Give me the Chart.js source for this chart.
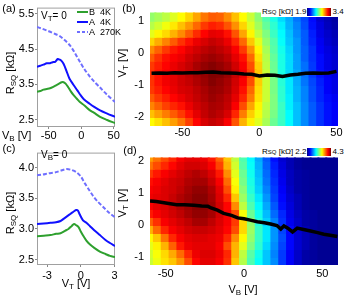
<!DOCTYPE html>
<html><head><meta charset="utf-8">
<script src="https://cdn.jsdelivr.net/npm/chart.js@4.4.1/dist/chart.umd.min.js"></script>
<style>
html,body{margin:0;padding:0;background:#fff}
body{position:relative;width:345px;height:300px;overflow:hidden;font-family:'Liberation Sans',Arial,sans-serif;color:#000}
canvas{position:absolute}
.t{position:absolute;white-space:nowrap;font-size:11px;line-height:12px}
.t sub,.lg sub,.cb sub{font-size:8px;line-height:0;vertical-align:-2px}
.cb sub{font-size:6px}
.c{transform:translate(-50%,-50%)}
.r{transform:translate(-50%,-50%) rotate(-90deg)}
.lg{position:absolute;font-size:9px;line-height:10px;white-space:nowrap}
.sw{position:absolute;height:2px;width:11px}
.cb{position:absolute;background:#fff;height:10px;font-size:8px;line-height:10px;white-space:nowrap;display:flex;align-items:center;padding:0 1px}
.cb .g{display:inline-block;width:24px;height:8px;margin:0 1px;background:linear-gradient(to right,#00007f,#0000ff 12.5%,#00ffff 37.5%,#80ff80 50%,#ffff00 62.5%,#ff0000 87.5%,#7f0000)}
</style></head><body>
<canvas id="ca" width="120" height="145" style="left:0;top:0"></canvas>
<canvas id="cc" width="120" height="155" style="left:0;top:145px"></canvas>
<canvas id="cbb" width="235" height="145" style="left:110px;top:0"></canvas>
<canvas id="cd" width="235" height="155" style="left:110px;top:145px"></canvas>

<div class="t c" style="left:9px;top:8px">(a)</div>
<div class="t r" style="left:10px;top:73px">R<sub>SQ</sub> [kΩ]</div>
<div class="t" style="left:2px;top:129px">V<sub>B</sub> [V]</div>
<div class="t" style="left:41px;top:10px;font-size:10px">V<sub>T</sub>= 0</div>
<div class="sw" style="left:77px;top:11px;background:#2ea02e"></div>
<div class="lg" style="left:89px;top:7px">B&nbsp; 4K</div>
<div class="sw" style="left:77px;top:21px;background:#1010ff"></div>
<div class="lg" style="left:89px;top:17px">A&nbsp; 4K</div>
<div class="sw" style="left:77px;top:31px;background:repeating-linear-gradient(to right,#6f6fff 0 3px,transparent 3px 5px)"></div>
<div class="lg" style="left:89px;top:27px">A&nbsp; 270K</div>

<div class="t c" style="left:9px;top:148px">(c)</div>
<div class="t r" style="left:10px;top:213px">R<sub>SQ</sub> [kΩ]</div>
<div class="t c" style="left:76px;top:283px">V<sub>T</sub> [V]</div>
<div class="t" style="left:41px;top:149px;font-size:10px">V<sub>B</sub>= 0</div>

<div class="t c" style="left:129px;top:8px">(b)</div>
<div class="t r" style="left:122px;top:63px">V<sub>T</sub> [V]</div>
<div class="cb" style="left:261px;top:7px">R<sub>SQ</sub>&nbsp;[kΩ]&nbsp;1.9<span class="g"></span>3.4</div>

<div class="t c" style="left:130px;top:150px">(d)</div>
<div class="t r" style="left:122px;top:203px">V<sub>T</sub> [V]</div>
<div class="t c" style="left:243px;top:289px">V<sub>B</sub> [V]</div>
<div class="cb" style="left:261px;top:147px">R<sub>SQ</sub>&nbsp;[kΩ]&nbsp;2.2<span class="g"></span>4.3</div>

<script>
// ---------- panel (a): R_SQ vs V_B at V_T = 0 ----------
const A_B4K_X  = [-68,-63,-58,-53,-48,-43,-38,-34,-30,-27,-24,-20,-16,-12,-7,-2,5,13,20,29,40,52];
const A_B4K_Y  = [3.29,3.31,3.35,3.37,3.39,3.43,3.48,3.52,3.56,3.56,3.52,3.42,3.30,3.20,3.10,3.00,2.90,2.77,2.69,2.58,2.49,2.40];
const A_A4K_X  = [-68,-63,-58,-53,-48,-44,-40,-36,-33,-30,-27,-23,-18,-12,-6,-2,4,13,20,29,40,52];
const A_A4K_Y  = [4.00,4.03,4.06,4.10,4.10,4.13,4.14,4.22,4.20,4.16,4.08,3.90,3.66,3.49,3.33,3.22,3.08,2.95,2.86,2.76,2.67,2.58];
const A_270K_X = [-68,-60,-50,-40,-33,-25,-17,-10,-2,5,13,20,29,40,52];
const A_270K_Y = [5.13,5.08,5.01,4.93,4.87,4.75,4.60,4.40,4.14,3.93,3.73,3.58,3.41,3.20,3.00];
const A_XTICKS = [-50,0,50];
const A_YTICKS = [2.5,3.5,4.5,5.5];

// ---------- panel (c): R_SQ vs V_T at V_B = 0 ----------
const C_B4K_X  = [-3.9,-3.3,-2.7,-2.2,-1.8,-1.4,-1.1,-0.8,-0.6,-0.4,-0.2,0,0.25,0.5,0.8,1.2,1.7,2.2,2.6,3.05];
const C_B4K_Y  = [2.88,2.89,2.90,2.92,2.93,2.97,3.00,3.05,3.08,3.06,3.03,2.96,2.88,2.81,2.75,2.69,2.63,2.59,2.56,2.54];
const C_A4K_X  = [-3.9,-3.3,-2.7,-2.2,-1.8,-1.5,-1.2,-0.9,-0.6,-0.4,-0.25,-0.1,0.2,0.5,0.8,1.2,1.7,2.2,2.6,3.05];
const C_A4K_Y  = [3.08,3.09,3.10,3.11,3.13,3.17,3.21,3.25,3.29,3.31,3.30,3.24,3.14,3.10,3.05,2.98,2.90,2.82,2.77,2.72];
const C_270K_X = [-3.9,-3.4,-2.9,-2.2,-1.7,-1.3,-0.9,-0.4,0,0.35,0.7,1.1,1.5,2.0,2.5,3.05];
const C_270K_Y = [3.88,3.89,3.91,3.93,3.96,3.98,3.97,3.93,3.86,3.75,3.65,3.54,3.45,3.36,3.27,3.19];
const C_XTICKS = [-3,0,3];
const C_YTICKS = [2.5,3.0,3.5,4.0];

// ---------- panel (b): map R_SQ(V_B, V_T), kOhm ----------
const B_VB = [-70,-65,-60,-55,-50,-45,-40,-35,-30,-25,-20,-15,-10,-5,0,5,10,15,20,25,30,35,40,45,50];
const B_VT = [1.125,0.875,0.625,0.375,0.125,-0.125,-0.375,-0.625,-0.875,-1.125,-1.375,-1.625,-1.875,-2.125];
const B_R = [
 [2.68,2.71,2.74,2.79,2.84,2.90,2.97,3.04,3.08,3.07,3.01,2.93,2.84,2.76,2.67,2.58,2.50,2.41,2.34,2.26,2.19,2.10,2.02,1.98,1.95],
 [2.73,2.77,2.82,2.87,2.93,2.99,3.06,3.13,3.17,3.15,3.09,3.00,2.90,2.79,2.70,2.61,2.53,2.44,2.35,2.28,2.20,2.11,2.04,1.99,1.96],
 [2.80,2.85,2.89,2.95,3.01,3.08,3.15,3.21,3.25,3.24,3.19,3.09,2.97,2.85,2.74,2.65,2.55,2.46,2.37,2.29,2.22,2.13,2.05,2.01,1.98],
 [2.90,2.96,3.02,3.08,3.14,3.19,3.24,3.27,3.30,3.28,3.24,3.16,3.06,2.92,2.80,2.68,2.58,2.47,2.38,2.31,2.22,2.14,2.07,2.02,1.99],
 [3.01,3.07,3.13,3.18,3.21,3.25,3.28,3.31,3.33,3.31,3.28,3.22,3.13,3.00,2.85,2.71,2.59,2.49,2.40,2.31,2.23,2.16,2.08,2.04,2.01],
 [3.08,3.14,3.19,3.22,3.24,3.28,3.31,3.34,3.36,3.34,3.31,3.25,3.19,3.06,2.88,2.73,2.61,2.50,2.41,2.32,2.23,2.16,2.10,2.05,2.02],
 [3.13,3.17,3.21,3.24,3.27,3.30,3.34,3.37,3.39,3.37,3.34,3.28,3.22,3.10,2.91,2.74,2.62,2.50,2.41,2.32,2.25,2.17,2.10,2.05,2.02],
 [3.14,3.19,3.23,3.25,3.28,3.31,3.34,3.37,3.40,3.39,3.36,3.30,3.24,3.12,2.92,2.76,2.62,2.50,2.41,2.34,2.25,2.17,2.11,2.07,2.04],
 [3.14,3.19,3.23,3.25,3.28,3.30,3.33,3.36,3.39,3.37,3.34,3.28,3.22,3.10,2.91,2.76,2.64,2.52,2.43,2.34,2.26,2.19,2.13,2.08,2.05],
 [3.13,3.17,3.21,3.24,3.27,3.28,3.31,3.34,3.37,3.36,3.33,3.27,3.19,3.06,2.89,2.76,2.64,2.53,2.43,2.35,2.28,2.20,2.14,2.08,2.05],
 [3.08,3.13,3.17,3.21,3.24,3.27,3.30,3.33,3.36,3.34,3.31,3.25,3.16,3.03,2.88,2.76,2.65,2.53,2.44,2.35,2.28,2.20,2.14,2.10,2.07],
 [3.02,3.07,3.12,3.16,3.19,3.24,3.28,3.31,3.34,3.33,3.30,3.22,3.10,2.97,2.85,2.74,2.65,2.55,2.44,2.37,2.29,2.22,2.16,2.11,2.08],
 [2.93,2.98,3.03,3.08,3.13,3.19,3.25,3.30,3.33,3.31,3.27,3.16,3.03,2.91,2.82,2.73,2.64,2.55,2.46,2.37,2.29,2.22,2.16,2.11,2.08],
 [2.84,2.88,2.93,2.98,3.04,3.12,3.21,3.27,3.30,3.28,3.22,3.09,2.95,2.86,2.79,2.71,2.62,2.55,2.46,2.37,2.29,2.22,2.16,2.11,2.08]
];
const B_LINE_VB = [-70,-65,-60,-55,-50,-45,-40,-35,-30,-25,-20,-15,-10,-5,0,5,10,15,20,25,30,35,40,45,50];
const B_LINE_VT = [-0.64,-0.63,-0.64,-0.62,-0.63,-0.62,-0.62,-0.61,-0.60,-0.62,-0.63,-0.64,-0.66,-0.67,-0.72,-0.69,-0.70,-0.74,-0.69,-0.67,-0.64,-0.63,-0.64,-0.63,-0.58];
const B_XTICKS = [-50,0,50];
const B_YTICKS = [1,0,-1,-2];
const B_CBAR = [1.9,3.4];

// ---------- panel (d): map R_SQ(V_B, V_T), kOhm ----------
const D_VB = [-60,-55,-50,-45,-40,-35,-30,-25,-20,-15,-10,-5,0,5,10,15,20,25,30,35,40,45,50,55,60];
const D_VT = [2.125,1.875,1.625,1.375,1.125,0.875,0.625,0.375,0.125,-0.125,-0.375,-0.625,-0.875,-1.125];
const D_R = [
 [3.71,3.80,3.88,3.96,4.05,4.09,4.09,4.07,3.99,3.84,3.63,3.38,3.15,2.98,2.81,2.64,2.49,2.37,2.31,2.26,2.24,2.24,2.24,2.24,2.24],
 [3.80,3.88,3.96,4.03,4.09,4.13,4.13,4.11,4.05,3.90,3.67,3.42,3.17,3.00,2.83,2.66,2.52,2.39,2.31,2.26,2.24,2.24,2.24,2.24,2.24],
 [3.92,3.99,4.05,4.09,4.13,4.17,4.20,4.17,4.11,3.99,3.75,3.46,3.21,3.02,2.85,2.68,2.54,2.41,2.33,2.28,2.26,2.24,2.24,2.24,2.24],
 [4.01,4.05,4.09,4.13,4.15,4.20,4.22,4.22,4.15,4.05,3.82,3.50,3.23,3.04,2.87,2.70,2.56,2.43,2.33,2.28,2.26,2.24,2.24,2.24,2.24],
 [4.05,4.07,4.11,4.13,4.17,4.22,4.26,4.26,4.20,4.09,3.88,3.54,3.27,3.06,2.89,2.73,2.58,2.45,2.35,2.28,2.26,2.24,2.24,2.24,2.24],
 [4.07,4.09,4.11,4.15,4.20,4.24,4.28,4.28,4.22,4.11,3.96,3.63,3.31,3.10,2.94,2.77,2.60,2.47,2.37,2.31,2.26,2.24,2.24,2.24,2.24],
 [4.05,4.09,4.11,4.15,4.20,4.24,4.28,4.28,4.24,4.13,4.03,3.75,3.38,3.15,2.98,2.81,2.64,2.49,2.39,2.31,2.26,2.24,2.24,2.24,2.24],
 [3.99,4.05,4.09,4.13,4.17,4.22,4.26,4.26,4.22,4.13,4.05,3.88,3.50,3.21,3.02,2.85,2.68,2.54,2.41,2.33,2.28,2.26,2.24,2.24,2.24],
 [3.84,3.94,4.05,4.09,4.13,4.17,4.22,4.22,4.17,4.11,4.05,3.92,3.59,3.29,3.06,2.89,2.73,2.56,2.43,2.35,2.28,2.26,2.24,2.24,2.24],
 [3.67,3.82,3.96,4.05,4.09,4.13,4.15,4.15,4.13,4.09,4.03,3.88,3.59,3.31,3.10,2.94,2.77,2.60,2.47,2.37,2.31,2.26,2.24,2.24,2.24],
 [3.52,3.63,3.80,3.96,4.05,4.09,4.11,4.11,4.09,4.07,3.96,3.75,3.52,3.29,3.10,2.94,2.77,2.62,2.47,2.37,2.31,2.26,2.24,2.24,2.24],
 [3.46,3.54,3.67,3.84,3.99,4.07,4.09,4.09,4.09,4.05,3.88,3.67,3.46,3.25,3.08,2.91,2.75,2.60,2.47,2.37,2.31,2.26,2.24,2.24,2.24],
 [3.42,3.50,3.59,3.69,3.82,3.96,4.07,4.11,4.11,4.07,3.96,3.67,3.38,3.17,3.02,2.87,2.73,2.58,2.45,2.35,2.28,2.26,2.24,2.24,2.24],
 [3.40,3.48,3.57,3.63,3.73,3.88,4.03,4.09,4.09,4.05,3.94,3.63,3.36,3.15,3.00,2.87,2.75,2.58,2.45,2.35,2.28,2.26,2.24,2.24,2.24]
];
const D_LINE_VB = [-60,-56,-53,-48,-43,-38,-32,-27,-23,-21,-17,-13,-8,-4,0,4,8.5,13,17,21,23.5,25.5,28,31,34,38,42.5,47,51,55,59.6];
const D_LINE_VT = [0.75,0.73,0.71,0.67,0.63,0.63,0.61,0.59,0.58,0.53,0.46,0.36,0.30,0.22,0.19,0.15,0.10,0.07,0.03,-0.02,-0.13,-0.03,-0.10,-0.22,-0.10,-0.14,-0.19,-0.24,-0.29,-0.32,-0.36];
const D_XTICKS = [-50,0,50];
const D_YTICKS = [2,1,0,-1];
const D_CBAR = [2.2,4.3];

// ---------- helpers ----------
Chart.defaults.font.family = "'Liberation Sans', Arial, sans-serif";
Chart.defaults.font.size = 11;
Chart.defaults.color = '#000';

const pts = (xs, ys) => xs.map((x, i) => ({x, y: ys[i]}));
function jet(f) {
  f = Math.max(0, Math.min(1, f));
  const c = k => Math.round(255 * Math.max(0, Math.min(1, 1.5 - Math.abs(4 * f - k))));
  return `rgb(${c(3)},${c(2)},${c(1)})`;
}
function axis(min, max, ticks, fmt, fit, tk) {
  return {
    type: 'linear', min, max, offset: false,
    afterBuildTicks: s => { s.ticks = ticks.map(v => ({value: v})); },
    afterFit: fit,
    ticks: {callback: fmt, autoSkip: false, maxRotation: 0, padding: tk.pad, color: '#000', font: {size: 11}},
    grid: {display: tk.len > 0, offset: false, drawOnChartArea: false, drawTicks: true, tickLength: tk.len, color: tk.col},
    border: {display: false}
  };
}
const frame = {
  id: 'frame',
  beforeDatasetsDraw(chart) {
    const {ctx, chartArea: a} = chart;
    ctx.save(); ctx.strokeStyle = '#a0a0a0'; ctx.lineWidth = 1;
    ctx.strokeRect(a.left + 0.5, a.top + 0.5, a.width - 1, a.height - 1);
    ctx.restore();
  }
};
const baseOpts = pad => ({
  responsive: false, animation: false, devicePixelRatio: 1,
  layout: {padding: pad},
  plugins: {legend: {display: false}, tooltip: {enabled: false}}
});
const fmt1 = v => v.toFixed(1);
const fmt0 = v => String(v);

function lineSet(xs, ys, color, dash) {
  return {data: pts(xs, ys), borderColor: color, borderWidth: 2, pointRadius: 0, tension: 0.3, fill: false, borderDash: dash || [], clip: 0};
}
function linePanel(id, sets, xA, yA, pad) {
  new Chart(document.getElementById(id), {
    type: 'line', data: {datasets: sets},
    options: Object.assign(baseOpts(pad), {scales: {x: xA, y: yA}}),
    plugins: [frame]
  });
}
function heatPanel(id, cols, rows, grid, cbar, lx, ly, xA, yA, pad) {
  const dy = Math.abs(rows[0] - rows[1]);
  const sets = rows.map((vt, r) => ({
    type: 'bar', order: 1, grouped: false, clip: 0,
    barPercentage: 1, categoryPercentage: 1, borderWidth: 0, inflateAmount: 1,
    data: cols.map(vb => ({x: vb, y: [vt - dy / 2, vt + dy / 2]})),
    backgroundColor: grid[r].map(v => jet((v - cbar[0]) / (cbar[1] - cbar[0])))
  }));
  sets.push({type: 'line', order: 0, clip: 0, data: pts(lx, ly), borderColor: '#000', borderWidth: 3.5, pointRadius: 0, tension: 0});
  new Chart(document.getElementById(id), {
    type: 'bar', data: {datasets: sets},
    options: Object.assign(baseOpts(pad), {scales: {x: xA, y: yA}})
  });
}

const tkL = {pad: 1, len: 2, col: '#888'};

// (a)
linePanel('ca', [
  lineSet(A_270K_X, A_270K_Y, '#6f6fff', [4, 2]),
  lineSet(A_A4K_X, A_A4K_Y, '#1010ff'),
  lineSet(A_B4K_X, A_B4K_Y, '#2ea02e')
],
  axis(-68, 52, A_XTICKS, fmt0, s => { s.height = 18; }, {pad: 0, len: 2, col: '#888'}),
  axis(2.29, 5.68, A_YTICKS, fmt1, s => { s.width = 37; }, tkL),
  {top: 4, right: 5, left: 0, bottom: 0});

// (c)
linePanel('cc', [
  lineSet(C_270K_X, C_270K_Y, '#6f6fff', [4, 2]),
  lineSet(C_A4K_X, C_A4K_Y, '#1010ff'),
  lineSet(C_B4K_X, C_B4K_Y, '#2ea02e')
],
  axis(-3.9, 3.05, C_XTICKS, fmt0, s => { s.height = 35; }, {pad: 2, len: 2, col: '#888'}),
  axis(2.41, 4.25, C_YTICKS, fmt1, s => { s.width = 37; }, tkL),
  {top: 2, right: 5, left: 0, bottom: 0});

// (b)
heatPanel('cbb', B_VB, B_VT, B_R, B_CBAR, B_LINE_VB, B_LINE_VT,
  axis(-71, 51, B_XTICKS, fmt0, s => { s.height = 19; }, {pad: 0, len: 0, col: '#000'}),
  axis(-2.28, 1.25, B_YTICKS, fmt0, s => { s.width = 40; }, {pad: 6, len: 0, col: '#000'}),
  {top: 7, right: 7, left: 0, bottom: 0});

// (d)
heatPanel('cd', D_VB, D_VT, D_R, D_CBAR, D_LINE_VB, D_LINE_VT,
  axis(-60, 60, D_XTICKS, fmt0, s => { s.height = 35; }, {pad: 2, len: 0, col: '#000'}),
  axis(-1.25, 2.1, D_YTICKS, fmt0, s => { s.width = 40; }, {pad: 6, len: 0, col: '#000'}),
  {top: 3, right: 7, left: 0, bottom: 0});
</script>
</body></html>
